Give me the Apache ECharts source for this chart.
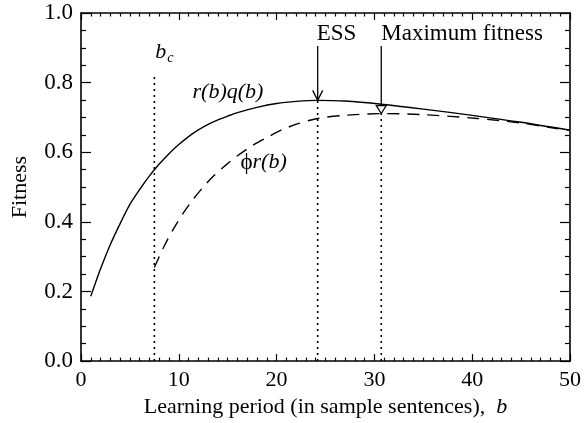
<!DOCTYPE html>
<html>
<head>
<meta charset="utf-8">
<title>Fitness vs learning period</title>
<script src="https://cdn.jsdelivr.net/npm/echarts@6/dist/echarts.min.js"></script>
<style>
  html, body { margin: 0; padding: 0; background: #fff; }
  #main { width: 584px; height: 423px; }
</style>
</head>
<body>
<div id="main"></div>
<script>
// r(b)q(b), solid curve
var bSolid   = [1, 2, 3, 4, 5, 6, 7, 8, 9, 10, 11, 12, 13, 14, 15, 16, 18, 20, 22, 24.2, 27, 30.7, 35, 40, 45, 50];
var fitSolid = [0.186, 0.265, 0.335, 0.395, 0.450, 0.493, 0.532, 0.566, 0.596, 0.622, 0.645, 0.664, 0.680, 0.693, 0.704, 0.714, 0.729, 0.740, 0.746, 0.749, 0.747, 0.738, 0.724, 0.706, 0.686, 0.663];
// phi r(b), dashed curve
var bDashed   = [7.5, 8.5, 9.5, 10.5, 11.5, 12.5, 13.5, 14.8, 16, 17.4, 19, 20.5, 22.2, 24.2, 27, 30.7, 35, 40.5, 45, 48, 50];
var fitDashed = [0.269, 0.330, 0.382, 0.427, 0.466, 0.500, 0.530, 0.563, 0.590, 0.617, 0.642, 0.664, 0.682, 0.697, 0.706, 0.711, 0.708, 0.697, 0.684, 0.671, 0.663];
// dotted verticals: b_c, ESS, maximum fitness
var bMarks   = [7.5, 24.2, 30.7];
var markTops = [0.826, 0.749, 0.711];
// arrows: ESS (open V head), Maximum fitness (hollow triangle head)
var arrowB    = [24.2, 30.7];
var arrowFrom = [0.905, 0.905];
var arrowTo   = [0.749, 0.711];
var arrowHead = ['v', 'triangle'];
// annotation texts
var labelText = ['{i|b}{s|c}', '{i|r(b)q(b)}', '{n|ϕ}{i|r(b)}', '{n|ESS}', '{n|Maximum fitness}'];
var labelB    = [7.6, 11.4, 16.3, 24.1, 30.7];
var labelFit  = [0.886, 0.772, 0.57, 0.94, 0.94];

var FONT = '"Liberation Serif", "Times New Roman", serif';
var FS = 22;

function pairs(xs, ys) {
    return xs.map(function (x, i) { return [x, ys[i]]; });
}

var chart = echarts.init(document.getElementById('main'));

var axisLine = { show: true, onZero: false, lineStyle: { color: '#000', width: 1.6 } };

var series = [
    {
        name: 'r(b)q(b)', type: 'line', data: pairs(bSolid, fitSolid),
        showSymbol: false, smooth: 0.3, silent: true,
        lineStyle: { color: '#000', width: 1.4 }
    },
    {
        name: 'phi r(b)', type: 'line', data: pairs(bDashed, fitDashed),
        showSymbol: false, smooth: 0.3, silent: true,
        lineStyle: { color: '#000', width: 1.4, type: [12, 8] }
    }
];

bMarks.forEach(function (b, i) {
    series.push({
        type: 'line', data: [[b, 0], [b, markTops[i]]],
        showSymbol: false, silent: true,
        lineStyle: { color: '#000', width: 1.6, type: [2, 4] }
    });
});

series.push({
    type: 'custom', silent: true, clip: false,
    data: arrowB.map(function (b, i) { return [b, arrowFrom[i], arrowTo[i], i]; }),
    renderItem: function (params, api) {
        var p0 = api.coord([api.value(0), api.value(1)]);
        var p1 = api.coord([api.value(0), api.value(2)]);
        var kind = arrowHead[api.value(3)];
        var x = p1[0], y = p1[1];
        var kids = [{
            type: 'line',
            shape: { x1: p0[0], y1: p0[1], x2: x, y2: y },
            style: { stroke: '#000', lineWidth: 1.3 }
        }];
        if (kind === 'v') {
            kids.push({
                type: 'polyline',
                shape: { points: [[x - 5, y - 10], [x, y], [x + 5, y - 10]] },
                style: { stroke: '#000', lineWidth: 1.3, fill: null }
            });
        } else {
            kids.push({
                type: 'polygon',
                shape: { points: [[x - 5, y - 8], [x, y], [x + 5, y - 8]] },
                style: { stroke: '#000', lineWidth: 1.2, fill: '#fff' }
            });
        }
        return { type: 'group', children: kids };
    }
});

series.push({
    type: 'custom', silent: true, clip: false,
    data: labelB.map(function (b, i) { return [b, labelFit[i], i]; }),
    renderItem: function (params, api) {
        var p = api.coord([api.value(0), api.value(1)]);
        return {
            type: 'text',
            x: p[0], y: p[1],
            style: {
                text: labelText[api.value(2)],
                align: 'left', verticalAlign: 'middle',
                fill: '#000',
                rich: {
                    n: { fontFamily: FONT, fontSize: 23, fill: '#000' },
                    i: { fontFamily: FONT, fontSize: 22, fontStyle: 'italic', fill: '#000' },
                    s: { fontFamily: FONT, fontSize: 14, fontStyle: 'italic', fill: '#000', padding: [12, 0, 0, 1] }
                }
            }
        };
    }
});

var option = {
    animation: false,
    backgroundColor: '#fff',
    grid: { left: 81, right: 10, top: 13, bottom: 60 },
    xAxis: [
        {
            type: 'value', min: 0, max: 50, interval: 10, position: 'bottom',
            axisLine: axisLine,
            axisTick: { inside: true, length: 7, lineStyle: { color: '#000', width: 1.2 } },
            minorTick: { show: true, splitNumber: 10, length: 3.5, lineStyle: { color: '#000', width: 1.2 } },
            splitLine: { show: false },
            axisLabel: { color: '#000', fontFamily: FONT, fontSize: FS, margin: 8 },
            name: 'Learning period (in sample sentences),  {i|b}',
            nameLocation: 'middle', nameGap: 28,
            nameTextStyle: {
                color: '#000', fontFamily: FONT, fontSize: FS,
                rich: { i: { fontFamily: FONT, fontSize: FS, fontStyle: 'italic', color: '#000' } }
            }
        },
        {
            type: 'value', min: 0, max: 50, interval: 10, position: 'top',
            axisLine: axisLine,
            axisTick: { inside: true, length: 7, lineStyle: { color: '#000', width: 1.2 } },
            minorTick: { show: true, splitNumber: 10, length: 3.5, lineStyle: { color: '#000', width: 1.2 } },
            splitLine: { show: false },
            axisLabel: { show: false }
        }
    ],
    yAxis: [
        {
            type: 'value', min: 0, max: 1, interval: 0.2, position: 'left',
            axisLine: axisLine,
            axisTick: { inside: true, length: 10, lineStyle: { color: '#000', width: 1.2 } },
            minorTick: { show: true, splitNumber: 4, length: 5, lineStyle: { color: '#000', width: 1.2 } },
            splitLine: { show: false },
            axisLabel: {
                color: '#000', fontFamily: FONT, fontSize: 23, margin: 8,
                formatter: function (v) { return v.toFixed(1); }
            },
            name: 'Fitness', nameLocation: 'middle', nameGap: 50,
            nameTextStyle: { color: '#000', fontFamily: FONT, fontSize: FS }
        },
        {
            type: 'value', min: 0, max: 1, interval: 0.2, position: 'right',
            axisLine: axisLine,
            axisTick: { inside: true, length: 10, lineStyle: { color: '#000', width: 1.2 } },
            minorTick: { show: true, splitNumber: 4, length: 5, lineStyle: { color: '#000', width: 1.2 } },
            splitLine: { show: false },
            axisLabel: { show: false }
        }
    ],
    series: series
};

chart.setOption(option);
</script>
</body>
</html>
